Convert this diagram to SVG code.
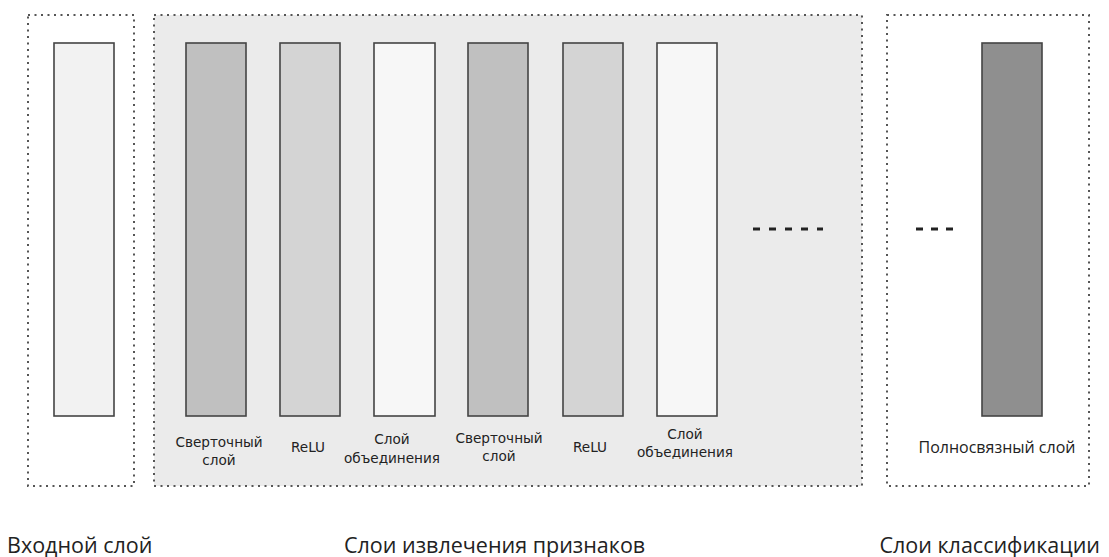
<svg xmlns="http://www.w3.org/2000/svg" width="1109" height="557" viewBox="0 0 1109 557">
<style>
.frame{fill:none;stroke:#555;stroke-width:2;stroke-dasharray:2 4.5}
.layer{stroke:#444;stroke-width:1.6}
.lbl{font-family:"DejaVu Sans",sans-serif;font-size:13.6px;fill:#222;text-anchor:middle}
.big{font-family:"Open Sans","Noto Sans",sans-serif;font-size:21.5px;fill:#222}
.fc{font-family:"Open Sans","Noto Sans",sans-serif;font-size:16px;fill:#222}
.dots{stroke:#222;stroke-width:3}
</style>
<rect width="1109" height="557" fill="#ffffff"/>
<g id="input-group">
<rect class="frame" x="28" y="15" width="106" height="471"/>
<rect class="layer" x="54" y="43" width="60" height="373" fill="#f2f2f2"/>
</g>
<g id="feature-group">
<rect x="154" y="15" width="708" height="471" fill="#ebebeb"/>
<rect class="frame" x="154" y="15" width="708" height="471"/>
</g>
<g id="class-group">
<rect class="frame" x="887" y="15" width="202" height="471"/>
</g>
<g id="conv1">
<rect class="layer" x="186" y="43" width="60" height="373" fill="#c0c0c0"/>
<text class="lbl" x="219" y="447">Сверточный</text>
<text class="lbl" x="219" y="465">слой</text>
</g>
<g id="relu1">
<rect class="layer" x="280" y="43" width="60" height="373" fill="#d4d4d4"/>
<text class="lbl" x="308" y="452">ReLU</text>
</g>
<g id="pool1">
<rect class="layer" x="374" y="43" width="61" height="373" fill="#f7f7f7"/>
<text class="lbl" x="392" y="444">Слой</text>
<text class="lbl" x="392" y="463">объединения</text>
</g>
<g id="conv2">
<rect class="layer" x="468" y="43" width="60" height="373" fill="#c0c0c0"/>
<text class="lbl" x="499" y="443">Сверточный</text>
<text class="lbl" x="499" y="461">слой</text>
</g>
<g id="relu2">
<rect class="layer" x="563" y="43" width="60" height="373" fill="#d4d4d4"/>
<text class="lbl" x="590" y="452">ReLU</text>
</g>
<g id="pool2">
<rect class="layer" x="657" y="43" width="60" height="373" fill="#f7f7f7"/>
<text class="lbl" x="685" y="439">Слой</text>
<text class="lbl" x="685" y="457">объединения</text>
</g>
<g id="ellipsis1">
<line class="dots" x1="753" y1="229" x2="823" y2="229" stroke-dasharray="7 9"/>
</g>
<g id="ellipsis2">
<line class="dots" x1="916" y1="229" x2="953" y2="229" stroke-dasharray="7 8"/>
</g>
<g id="fc">
<rect class="layer" x="982" y="43" width="60" height="373" fill="#8f8f8f"/>
<text class="fc" x="997" y="453" text-anchor="middle">Полносвязный слой</text>
</g>
<g id="connectors"></g>
<g id="captions">
<text class="big" x="7" y="553">Входной слой</text>
<text class="big" x="344" y="553">Слои извлечения признаков</text>
<text class="big" x="1100" y="553" text-anchor="end">Слои классификации</text>
</g>
</svg>
